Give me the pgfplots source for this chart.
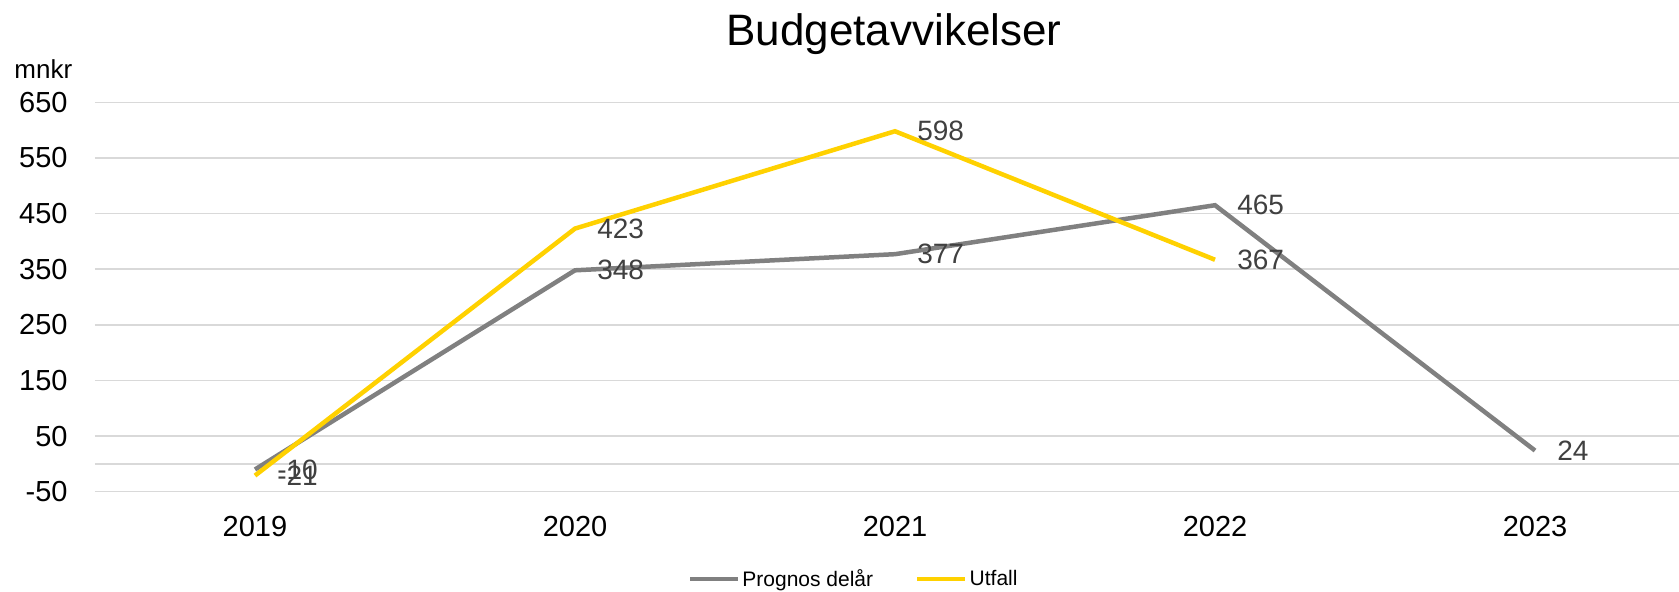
\documentclass[border=0pt]{standalone}
\usepackage{pgfplots}
\pgfplotsset{compat=1.18}
\usepackage{fontspec}
\setmainfont{Liberation Sans}
\definecolor{gline}{HTML}{808080}
\definecolor{yline}{HTML}{FFD100}
\definecolor{lbl}{HTML}{404040}
\definecolor{grd}{HTML}{D9D9D9}
\begin{document}
\begin{tikzpicture}
\useasboundingbox (-47.5pt,-49.65pt) rectangle (792pt,245.85pt);
\begin{axis}[
  at={(0,0)}, anchor=south west,
  scale only axis, width=792pt, height=194.7pt,
  xmin=-0.5, xmax=4.45, ymin=-50, ymax=650,
  xtick={0,1,2,3,4},
  xticklabels={2019,2020,2021,2022,2023},
  ytick={-50,50,150,250,350,450,550,650},
  extra y ticks={0}, extra y tick labels={},
  extra y tick style={grid=major, major grid style={grd, line width=0.75pt}},
  ymajorgrids, major grid style={grd, line width=0.75pt},
  major tick length=0pt,
  axis line style={draw=none},
  /pgf/number format/assume math mode=true,
  tick label style={font=\fontsize{14.5}{16}\selectfont, text=black},
  yticklabel style={anchor=east, inner sep=0pt, xshift=-13.5pt},
  xticklabel style={anchor=center, inner sep=0pt, yshift=-17.6pt},
  clip=false,
  nodes near coords,
  every node near coord/.append style={anchor=west, inner sep=0pt, xshift=10pt, yshift=0pt, font=\fontsize{14}{16}\selectfont, text=lbl},
  legend columns=2,
  legend style={at={(0.479,-0.2245)}, anchor=center, draw=none, fill=none,
    font=\fontsize{10.5}{12}\selectfont, inner sep=0pt,
    nodes={inner xsep=1pt},
    /tikz/every even column/.append style={column sep=20pt}},
  legend cell align=left,
  legend image code/.code={\draw[#1, line width=2.25pt] (0pt,0pt) -- (24pt,0pt);},
]
\addplot[gline, line width=2.25pt, mark=none] coordinates {(0,-10) (1,348) (2,377) (3,465) (4,24)};
\addlegendentry{Prognos delår}
\addplot[yline, line width=2.25pt, mark=none] coordinates {(0,-21) (1,423) (2,598) (3,367)};
\addlegendentry{Utfall}
\end{axis}
\node[anchor=base, inner sep=0pt, font=\fontsize{22}{26}\selectfont] at (399.5pt,223.35pt) {Budgetavvikelser};
\node[anchor=base west, inner sep=0pt, font=\fontsize{13}{15}\selectfont] at (-40.5pt,206.7pt) {mnkr};
\end{tikzpicture}
\end{document}
